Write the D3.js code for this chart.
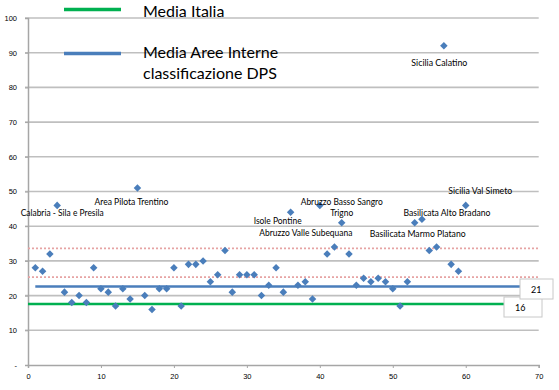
<!DOCTYPE html>
<html>
<head>
<meta charset="utf-8">
<script src="https://cdn.jsdelivr.net/npm/d3@7"></script>
<style>
  body { margin: 0; background: #fff; }
  svg { display: block; font-family: Lato, "Liberation Sans", sans-serif; }
</style>
</head>
<body>
<div id="chart"></div>
<script>
// data
const areaIds = d3.range(1, 61)
const areaValues = [28, 27, 32, 46, 21, 18, 20, 18, 28, 22,
                    21, 17, 22, 19, 51, 20, 16, 22, 22, 28,
                    17, 29, 29, 30, 24, 26, 33, 21, 26, 26,
                    26, 20, 23, 28, 21, 44, 23, 24, 19, 46,
                    32, 34, 41, 32, 23, 25, 24, 25, 24, 22,
                    17, 24, 41, 42, 33, 34, 92, 29, 27, 46]
const labelNames = ["Calabria - Sila e Presila", "Area Pilota Trentino", "Isole Pontine",
                    "Abruzzo Valle Subequana", "Abruzzo Basso Sangro", "Trigno",
                    "Basilicata Marmo Platano", "Basilicata Alto Bradano",
                    "Sicilia  Val Simeto", "Sicilia Calatino"]
const labelAreas = [4, 15, 36, 40, 43, 43, 53, 54, 60, 57]
const seriesNames = ["Media Italia", "Media Aree Interne", "classificazione DPS"]
const meanValues = [17.6, 22.6]
const meanTags = ["16", "21"]
const bandValues = [25.3, 33.6]
const xTicks = [0, 10, 20, 30, 40, 50, 60, 70]
const yTicks = [0, 10, 20, 30, 40, 50, 60, 70, 80, 90, 100]

const width = 559
const height = 390
const margin = { top: 18, right: 20, bottom: 25, left: 28 }

const blue = "#4a7ebb"
const green = "#00b050"

const svg = d3.select("#chart").append("svg")
  .attr("width", width)
  .attr("height", height)

const x = d3.scaleLinear().domain([0, 70]).range([margin.left, width - margin.right - 0.3])
const y = d3.scaleLinear().domain([0, 100]).range([height - margin.bottom, margin.top])

// gridlines
svg.append("g")
  .selectAll("line")
  .data(yTicks.filter(d => d > 0))
  .join("line")
  .attr("x1", margin.left - 3)
  .attr("x2", x(70))
  .attr("y1", d => y(d))
  .attr("y2", d => y(d))
  .attr("stroke", "#bfbfbf")
  .attr("stroke-width", 1.6)

// axes
const yAxis = d3.axisLeft(y)
  .tickValues(yTicks)
  .tickSize(3)
  .tickPadding(8)
  .tickFormat(d => d === 0 ? "-" : d)

const xAxis = d3.axisBottom(x)
  .tickValues(xTicks)
  .tickSize(3)
  .tickPadding(6)

const gy = svg.append("g")
  .attr("transform", `translate(${margin.left},0)`)
  .call(yAxis)
const gx = svg.append("g")
  .attr("transform", `translate(0,${y(0)})`)
  .call(xAxis)

;[gx, gy].forEach(g => {
  g.select(".domain").attr("stroke", "#a6a6a6").attr("stroke-width", 1.5)
  g.selectAll(".tick line").attr("stroke", "#a6a6a6")
  g.selectAll(".tick text").attr("fill", "#000").style("font-size", "7.5px")
})

// dotted band lines
svg.append("g")
  .selectAll("line")
  .data(bandValues)
  .join("line")
  .attr("x1", x(0))
  .attr("x2", x(70))
  .attr("y1", d => y(d))
  .attr("y2", d => y(d))
  .attr("stroke", "#e6a3a3")
  .attr("stroke-width", 1.8)
  .attr("stroke-dasharray", "2,2")

// mean lines
const meanStart = [0, 1]
const meanColors = [green, blue]
svg.append("g")
  .selectAll("line")
  .data(meanValues)
  .join("line")
  .attr("x1", (d, i) => x(meanStart[i]))
  .attr("x2", x(70))
  .attr("y1", d => y(d))
  .attr("y2", d => y(d))
  .attr("stroke", (d, i) => meanColors[i])
  .attr("stroke-width", 2.5)

// points
const diamond = d3.symbol().type(d3.symbolDiamond2).size(36)
svg.append("g")
  .selectAll("path")
  .data(areaIds)
  .join("path")
  .attr("transform", (d, i) => `translate(${x(d)},${y(areaValues[i])})`)
  .attr("d", diamond)
  .attr("fill", blue)

// point labels
const labelPlace = [
  { dx: 5, dy: 11, w: 83 },
  { dx: -6, dy: 17, w: 74 },
  { dx: -13, dy: 12, w: 48 },
  { dx: -14, dy: 30.5, w: 93 },
  { dx: 0, dy: -18, w: 82 },
  { dx: 0, dy: -7, w: 23 },
  { dx: 3, dy: 14.5, w: 96 },
  { dx: 25, dy: -3.5, w: 87 },
  { dx: 14.5, dy: -11, w: 64 },
  { dx: -4.5, dy: 20, w: 56 }
]
svg.append("g")
  .selectAll("text")
  .data(labelNames)
  .join("text")
  .attr("x", (d, i) => x(labelAreas[i]) + labelPlace[i].dx)
  .attr("y", (d, i) => y(areaValues[labelAreas[i] - 1]) + labelPlace[i].dy)
  .attr("text-anchor", "middle")
  .attr("textLength", (d, i) => labelPlace[i].w)
  .attr("lengthAdjust", "spacingAndGlyphs")
  .style("font-size", "8.5px")
  .attr("fill", "#000")
  .text(d => d)

// value tags at the end of mean lines
const tagBox = [{ x: 504, y: 297, w: 38, h: 20 }, { x: 520, y: 279, w: 33, h: 20 }]
const tags = svg.append("g")
  .selectAll("g")
  .data(meanTags)
  .join("g")
tags.append("rect")
  .attr("x", (d, i) => tagBox[i].x)
  .attr("y", (d, i) => tagBox[i].y)
  .attr("width", (d, i) => tagBox[i].w)
  .attr("height", (d, i) => tagBox[i].h)
  .attr("fill", "#fff")
  .attr("stroke", "#c8c8c8")
tags.append("text")
  .attr("x", (d, i) => tagBox[i].x + 11)
  .attr("y", (d, i) => tagBox[i].y + 14)
  .style("font-size", "9px")
  .attr("fill", "#000")
  .text(d => d)

// legend
const legend = svg.append("g")
legend.selectAll("line")
  .data(meanColors)
  .join("line")
  .attr("x1", 64)
  .attr("x2", 121)
  .attr("y1", (d, i) => i === 0 ? 9.5 : 53.5)
  .attr("y2", (d, i) => i === 0 ? 9.5 : 53.5)
  .attr("stroke", d => d)
  .attr("stroke-width", 3.5)
legend.selectAll("text")
  .data(seriesNames)
  .join("text")
  .attr("x", 143)
  .attr("y", (d, i) => [16.5, 57.5, 78.5][i])
  .style("font-size", "16px")
  .attr("fill", "#000")
  .text(d => d)
</script>
</body>
</html>
